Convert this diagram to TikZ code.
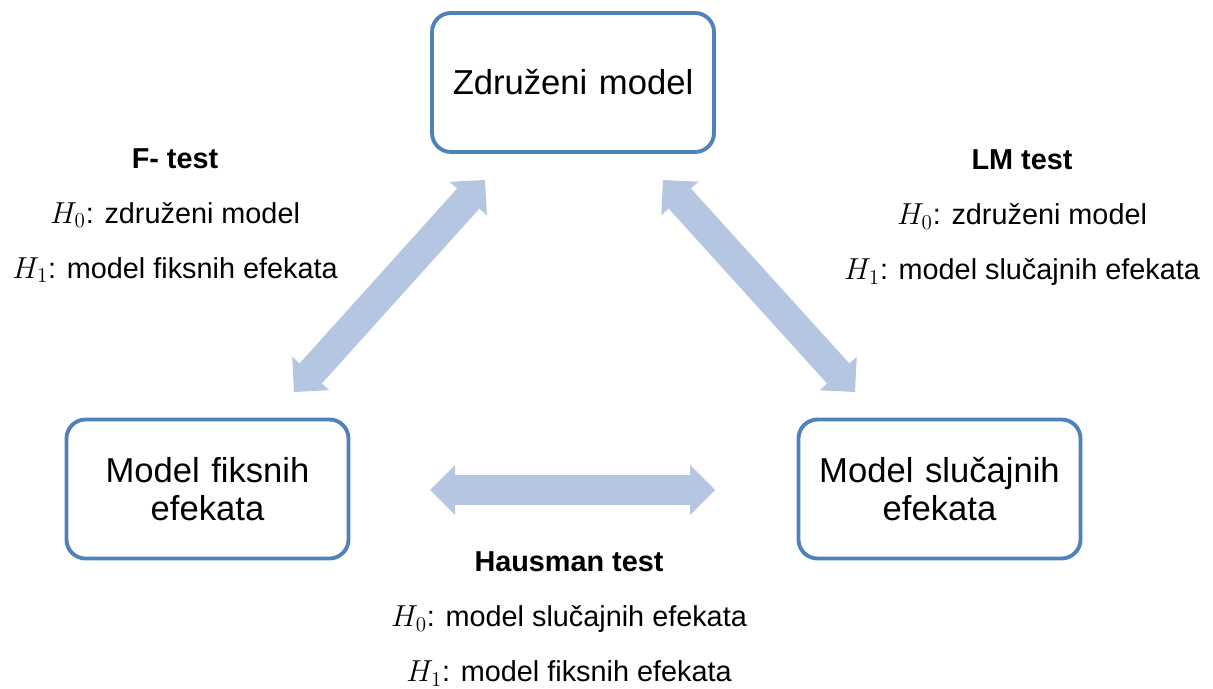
\documentclass[tikz,border=0pt]{standalone}
\usepackage{amsmath}
\usepackage{fontspec}
\setmainfont{Liberation Sans}
\usepackage{xcolor}
\usetikzlibrary{arrows.meta}
\definecolor{okvir}{RGB}{79,129,189}
\definecolor{strelica}{RGB}{180,198,225}
\tikzset{
	modelbox/.style={draw=okvir, line width=2.2pt, rounded corners=0.38cm, fill=white,
		minimum width=5.64cm, minimum height=2.78cm, align=center, text width=5.2cm,
		font=\fontsize{19.7}{21.6}\selectfont},
	testinfo/.style={align=center, font=\fontsize{16.4}{31.3}\selectfont},
	debela/.style={line width=0.6cm, draw=strelica,
		{Triangle[length=0.5cm,width=1.0cm,line width=0pt]}-{Triangle[length=0.5cm,width=1.0cm,line width=0pt]}}
}
\begin{document}
\begin{tikzpicture}
				\useasboundingbox (0,0) rectangle (24.26,-13.78);
				\node [modelbox] (zdruzeni) at (11.46,-1.65){Združeni model};
				\node [modelbox] (fiksni) at (4.15,-9.78){Model fiksnih\\efekata};
				\node [modelbox] (slucajni) at (18.79,-9.78){Model slučajnih\\efekata};
				\coordinate (f1) at (9.70,-3.60);
				\coordinate (f2) at (5.88,-7.84);
				\coordinate (lm1) at (13.26,-3.60);
				\coordinate (lm2) at (17.10,-7.84);
				\coordinate (h1) at (8.60,-9.80);
				\coordinate (h2) at (14.30,-9.80);
				\draw [debela](f1)--(f2);
				\draw [debela](lm1)--(lm2);
				\draw [debela](h1)--(h2);
				\node [testinfo] (ftest) at (3.50,-4.31){\textbf{F- test}\\$H_0$: združeni model\\$H_1$: model fiksnih efekata};
				\node [testinfo] (lmtest) at (20.44,-4.36){\textbf{LM test}\\$H_0$: združeni model\\$H_1$: model slučajnih efekata};
				\node [testinfo] (htest) at (11.38,-12.38){\textbf{Hausman test}\\$H_0$: model slučajnih efekata\\$H_1$: model fiksnih efekata};
			\end{tikzpicture}
\end{document}
